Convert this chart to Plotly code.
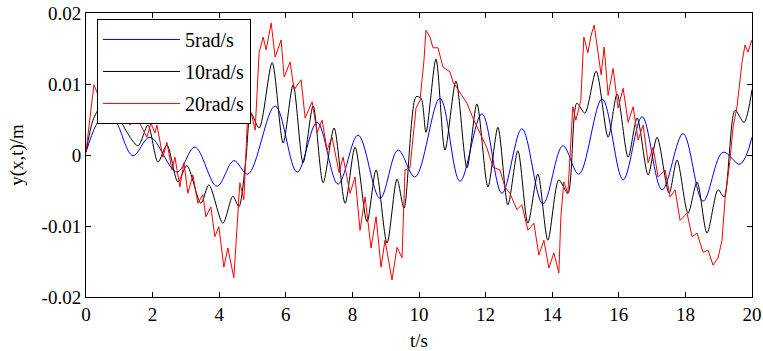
import plotly.graph_objects as go

# 5 rad/s (blue)
t_blue = [0.00, 0.30, 0.54, 0.72, 0.96, 1.41, 1.92, 2.73, 3.27, 3.93, 4.44, 4.86, 5.68, 6.34, 6.94,
          7.57, 8.17, 8.83, 9.37, 9.88, 10.63, 11.23, 11.89, 12.49, 13.09, 13.72, 14.32, 14.80,
          15.50, 16.13, 16.70, 17.30, 17.93, 18.53, 19.13, 19.64, 20.00]
y_blue = [0.0004, 0.0042, 0.0058, 0.0063, 0.0042, -0.0001, 0.0025, -0.0024, 0.0011, -0.0044, -0.0008,
          -0.0027, 0.0069, -0.0024, 0.0046, -0.0041, 0.0028, -0.0061, 0.0007, -0.0031, 0.0080, -0.0037,
          0.0058, -0.0054, 0.0037, -0.0069, 0.0013, -0.0027, 0.0079, -0.0035, 0.0054, -0.0049, 0.0030,
          -0.0065, 0.0004, -0.0013, 0.0025]

# 10 rad/s (black)
t_black = [0.00, 0.21, 0.42, 0.60, 0.78, 1.02, 1.56, 1.86, 2.16, 2.43, 2.76, 3.03, 3.45, 3.69, 4.11,
           4.41, 4.59, 4.80, 4.95, 5.20, 5.59, 5.92, 6.22, 6.52, 6.82, 7.12, 7.45, 7.78, 8.08, 8.44,
           8.71, 9.04, 9.34, 9.55, 9.91, 10.06, 10.21, 10.51, 10.78, 11.11, 11.44, 11.74, 12.07,
           12.37, 12.67, 12.97, 13.27, 13.57, 13.87, 14.20, 14.47, 14.74, 14.98, 15.32, 15.68,
           15.95, 16.28, 16.55, 16.88, 17.15, 17.51, 17.75, 18.08, 18.35, 18.65, 18.98, 19.16,
           19.49, 19.76, 20.00]
y_black = [0.0004, 0.0049, 0.0066, 0.0055, 0.0069, 0.0049, 0.0013, 0.0042, -0.0010, 0.0014, -0.0038,
           -0.0015, -0.0068, -0.0042, -0.0096, -0.0058, -0.0073, -0.0007, 0.0059, 0.0038, 0.0130,
           0.0017, 0.0099, -0.0011, 0.0069, -0.0039, 0.0038, -0.0068, 0.0011, -0.0094, -0.0021,
           -0.0124, -0.0034, -0.0075, 0.0082, 0.0080, 0.0032, 0.0135, 0.0007, 0.0104, -0.0018,
           0.0072, -0.0045, 0.0039, -0.0070, 0.0006, -0.0096, -0.0027, -0.0120, -0.0035, -0.0054,
           0.0073, 0.0059, 0.0118, 0.0025, 0.0086, -0.0003, 0.0052, -0.0028, 0.0025, -0.0054,
           -0.0007, -0.0082, -0.0038, -0.0110, -0.0049, -0.0059, 0.0063, 0.0046, 0.0092]

# 20 rad/s (red)
t_red = [0.00, 0.06, 0.18, 0.24, 0.42, 0.60, 0.78, 0.96, 1.14, 1.32, 1.47, 1.62, 1.83, 1.95, 2.07,
         2.13, 2.31, 2.43, 2.58, 2.67, 2.82, 2.94, 3.06, 3.21, 3.36, 3.51, 3.60, 3.75, 3.87, 3.99,
         4.14, 4.26, 4.44, 4.53, 4.62, 4.74, 4.86, 4.95, 5.08, 5.20, 5.32, 5.41, 5.56, 5.68, 5.86,
         5.95, 6.13, 6.25, 6.46, 6.58, 6.79, 6.94, 7.09, 7.24, 7.39, 7.60, 7.72, 7.93, 8.08, 8.23,
         8.38, 8.56, 8.71, 8.86, 8.98, 9.19, 9.34, 9.49, 9.58, 9.73, 9.91, 10.03, 10.15, 10.21,
         10.33, 10.42, 10.57, 10.72, 10.93, 11.02, 11.23, 11.44, 11.62, 11.83, 12.04, 12.22, 12.43,
         12.58, 12.73, 12.94, 13.09, 13.27, 13.45, 13.60, 13.75, 13.90, 14.05, 14.20, 14.26, 14.35,
         14.47, 14.62, 14.71, 14.86, 14.95, 15.07, 15.17, 15.26, 15.38, 15.47, 15.56, 15.68, 15.83,
         15.98, 16.13, 16.28, 16.43, 16.58, 16.73, 16.88, 17.03, 17.18, 17.39, 17.54, 17.69, 17.84,
         18.05, 18.20, 18.35, 18.53, 18.68, 18.83, 18.98, 19.10, 19.19, 19.34, 19.43, 19.55, 19.70,
         19.79, 19.88, 20.00]
y_red = [0.0004, 0.0031, 0.0077, 0.0099, 0.0077, 0.0056, 0.0080, 0.0052, 0.0070, 0.0042, 0.0061,
         0.0044, 0.0025, 0.0045, 0.0031, 0.0042, -0.0003, 0.0018, -0.0021, -0.0003, -0.0045, -0.0011,
         -0.0054, -0.0028, -0.0068, -0.0056, -0.0087, -0.0073, -0.0115, -0.0101, -0.0158, -0.0131,
         -0.0173, -0.0101, -0.0039, -0.0063, 0.0063, 0.0061, 0.0035, 0.0145, 0.0166, 0.0148, 0.0186,
         0.0138, 0.0162, 0.0110, 0.0131, 0.0092, 0.0106, 0.0052, 0.0075, 0.0032, 0.0049, 0.0007,
         0.0025, -0.0025, -0.0003, -0.0054, -0.0031, -0.0106, -0.0059, -0.0131, -0.0087, -0.0158,
         -0.0120, -0.0176, -0.0130, -0.0145, -0.0021, -0.0018, 0.0066, 0.0077, 0.0134, 0.0176,
         0.0166, 0.0151, 0.0151, 0.0124, 0.0117, 0.0103, 0.0087, 0.0073, 0.0052, 0.0031, 0.0010,
         -0.0017, -0.0021, -0.0045, -0.0054, -0.0077, -0.0070, -0.0106, -0.0096, -0.0141, -0.0120,
         -0.0159, -0.0138, -0.0166, -0.0087, -0.0038, -0.0054, 0.0068, 0.0049, 0.0077, 0.0166,
         0.0144, 0.0169, 0.0183, 0.0141, 0.0113, 0.0152, 0.0084, 0.0122, 0.0066, 0.0094, 0.0046,
         0.0068, 0.0021, 0.0042, -0.0011, 0.0011, -0.0031, -0.0021, -0.0059, -0.0049, -0.0092,
         -0.0082, -0.0115, -0.0110, -0.0137, -0.0134, -0.0155, -0.0145, -0.0120, -0.0063, -0.0007,
         0.0039, 0.0068, 0.0130, 0.0155, 0.0145, 0.0162]

x_ticks = [0, 2, 4, 6, 8, 10, 12, 14, 16, 18, 20]
y_ticks = [-0.02, -0.01, 0, 0.01, 0.02]
y_tick_text = ["-0.02", "-0.01", "0", "0.01", "0.02"]

FONT = "Liberation Serif"

fig = go.Figure()
fig.add_trace(go.Scatter(x=t_blue, y=y_blue, mode="lines", name="5rad/s", legendgroup="a",
                         line=dict(color="#0000ff", width=1, shape="spline", smoothing=1.0)))
fig.add_trace(go.Scatter(x=t_black, y=y_black, mode="lines", name="10rad/s", legendgroup="b",
                         line=dict(color="#000000", width=1, shape="spline", smoothing=0.8)))
fig.add_trace(go.Scatter(x=t_red, y=y_red, mode="lines", name="20rad/s", legendgroup="c",
                         line=dict(color="#ff0000", width=1)))

axis_common = dict(showline=True, linecolor="black", linewidth=1, mirror="ticks",
                   ticks="inside", ticklen=5, tickcolor="black", showgrid=False,
                   zeroline=False, automargin=False,
                   tickfont=dict(family=FONT, size=19, color="black"))

fig.update_layout(
    width=763, height=351,
    margin=dict(l=86, r=11, t=13, b=54),
    paper_bgcolor="white", plot_bgcolor="white",
    font=dict(family=FONT, size=19, color="black"),
    xaxis=dict(range=[0, 20], tickvals=x_ticks, title=dict(text="t/s", standoff=10,
               font=dict(family=FONT, size=19)), **axis_common),
    yaxis=dict(range=[-0.02, 0.02], tickvals=y_ticks, ticktext=y_tick_text,
               title=dict(text="y(x,t)/m", standoff=12, font=dict(family=FONT, size=19)),
               **axis_common),
    legend=dict(x=0.0165, y=0.979, xanchor="left", yanchor="top", bgcolor="white",
                bordercolor="black", borderwidth=1, tracegroupgap=3, itemwidth=77,
                font=dict(family=FONT, size=20, color="black")),
)

fig.write_html("out.html")
